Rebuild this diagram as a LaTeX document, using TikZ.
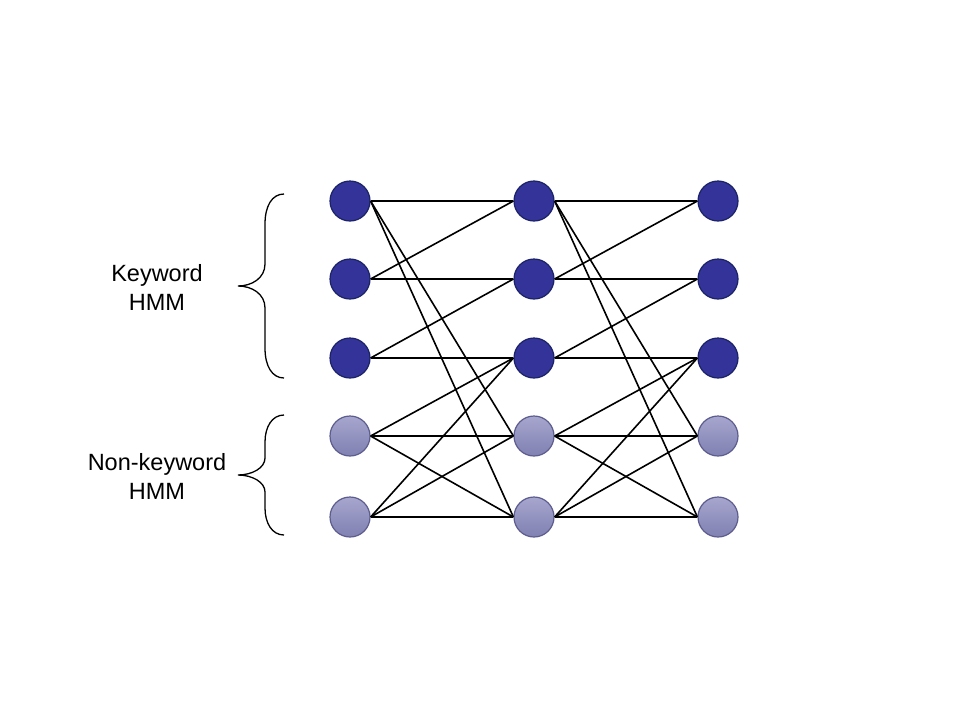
\documentclass[tikz,border=0pt]{standalone}
\usepackage{fontspec}
\setmainfont{Liberation Sans}
\usetikzlibrary{positioning}
\usetikzlibrary{calc}
\definecolor{kwfill}{HTML}{333399}
\definecolor{kwdraw}{HTML}{1B2266}
\definecolor{nktop}{HTML}{A6A6CE}
\definecolor{nkbot}{HTML}{8080B2}
\definecolor{nkdraw}{HTML}{5C5C8E}
\tikzstyle{state} = [circle, line width = 1.2pt, minimum size = 40pt, inner sep = 0]
\tikzstyle{keyword state} = [state, draw = kwdraw, fill = kwfill]
\tikzstyle{filler state} = [state, draw = nkdraw, top color = nktop, bottom color = nkbot]
\tikzstyle{edge} = [line width = 1.6pt]
\tikzstyle{brace} = [line width = 1.3pt]
\tikzstyle{label} = [align = center, font = \fontsize{23.5}{29}\selectfont]

\begin{document}
\begin{tikzpicture}[x=1pt, y=-1pt]
            \useasboundingbox (0, 0) rectangle (960, 720);

            % states: three keyword rows, two filler rows
            \foreach \c/\x in {1/350, 2/534, 3/718}
            {
                \foreach \r/\y in {1/201, 2/279, 3/358}
                {
                    \node [keyword state] (s\c-\r) at (\x, \y) {};
                }
                \foreach \r/\y in {4/436, 5/517}
                {
                    \node [filler state] (s\c-\r) at (\x, \y) {};
                }
            }

            % transitions between neighbouring columns
            \foreach \c/\d in {1/2, 2/3}
            {
                \foreach \a/\b in {1/1, 1/4, 1/5, 2/1, 2/2, 3/2, 3/3,
                                   4/3, 4/4, 4/5, 5/3, 5/4, 5/5}
                {
                    \draw [edge] (s\c-\a.east) -- (s\d-\b.west);
                }
            }

            \draw [brace] (284, 194) .. controls (272, 194) and (265, 206) .. (265, 224)
                -- (265, 264) .. controls (265, 278) and (252, 286) .. (238, 286)
                .. controls (252, 286) and (265, 294) .. (265, 308)
                -- (265, 348) .. controls (265, 366) and (272, 378) .. (284, 378);
            \draw [brace] (284, 415) .. controls (272, 415) and (265, 427) .. (265, 442)
                -- (265, 458) .. controls (265, 468) and (252, 475) .. (238, 475)
                .. controls (252, 475) and (265, 482) .. (265, 492)
                -- (265, 508) .. controls (265, 523) and (272, 535) .. (284, 535);

            \node [label] (kw) at (157, 287) {Keyword\\HMM};
            \node [label] (nk) at (157, 476) {Non-keyword\\HMM};
\end{tikzpicture}
\end{document}
